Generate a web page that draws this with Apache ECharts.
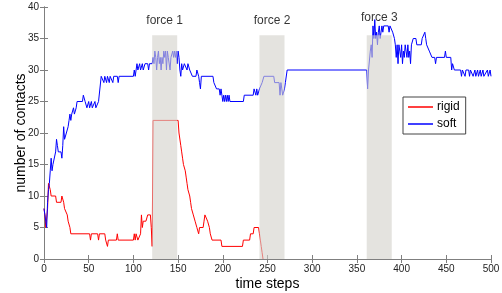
<!DOCTYPE html>
<html>
<head>
<meta charset="utf-8">
<script src="https://cdn.jsdelivr.net/npm/echarts@6/dist/echarts.min.js"></script>
<style>
html,body{margin:0;padding:0;background:#fff;}
#main{width:502px;height:293px;}
</style>
</head>
<body>
<div id="main"></div>
<script>
// rigid contacts per time step [step, contacts]
var rigid = [
  [0,8],[1,7],[2,5],[3,5],[4,8],[5,12],[6,12],[7,11],[8,10],[13,10],[14,9],[19,9],[20,10],[21,10],
  [22,9],[23,8],[25,8],[26,7],[27,6],[29,5],[30,4],[51,4],[52,3],[53,4],[60,4],[61,3],[62,4],
  [68,4],[69,3],[70,3],[71,2],[72,3],[81,3],[82,4],[83,3],[100,3],[101,4],[102,3],[103,4],[104,4],
  [105,3],[107,3],[108,4],[109,7],[110,5],[111,6],[114,6],[116,7],[119,7],[120,5],[121,2],[122,22],
  [150,22],[151,20],[152,20],[153,18],[154,17],[155,16],[156,15],[157,15],[158,14],[159,13],[160,12],
  [161,11],[162,11],[163,10],[164,9],[165,8],[166,8],[167,7],[168,7],[169,6],[171,5],[172,5],[173,4],
  [174,5],[178,5],[179,6],[180,7],[182,7],[183,6],[184,6],[185,5],[186,4],[187,4],[188,3],[198,3],
  [199,2],[222,2],[223,3],[230,3],[231,4],[234,4],[235,5],[240,5],[241,4],[242,3],[243,2],[244,1],[245,0]
];

// soft contacts per time step [step, contacts]
var soft = [
  [0,8],[1,7],[2,6],[3,5],[4,9],[5,11],[6,12],[7,14],[8,16],[9,14],[10,15],[12,15],[13,17],[14,19],
  [15,18],[16,17],[19,17],[20,16],[21,18],[22,21],[23,19],[24,19],[25,20],[26,20],[27,21],[28,22],
  [29,23],[30,22],[31,23],[32,23],[33,24],[34,23],[36,24],[37,25],[43,25],[44,26],[45,26],[46,25],
  [47,25],[48,24],[50,25],[51,24],[53,25],[54,24],[56,24],[57,25],[58,24],[60,24],[61,25],[63,25],
  [64,29],[66,29],[67,28],[68,29],[70,28],[71,29],[72,29],[73,28],[74,29],[77,28],[78,29],[82,29],
  [83,28],[84,29],[100,29],[101,30],[102,29],[103,30],[104,31],[105,30],[106,30],[107,31],[108,30],
  [109,30],[110,31],[111,30],[113,31],[116,31],[117,30],[118,31],[121,31],[122,32],[123,31],[124,33],
  [125,32],[126,30],[127,32],[128,33],[129,31],[130,32],[131,30],[132,32],[133,31],[134,33],[135,32],
  [136,33],[137,30],[138,33],[139,32],[140,32],[141,30],[142,32],[143,32],[144,33],[145,32],[146,33],
  [147,32],[148,33],[149,31],[150,33],[151,32],[152,30],[153,29],[154,31],[155,30],[157,31],[160,30],
  [161,31],[163,30],[165,30],[166,29],[170,29],[171,30],[172,30],[173,29],[174,28],[175,27],[176,29],
  [189,29],[190,28],[192,28],[193,27],[196,27],[197,26],[198,27],[199,26],[200,25],[201,26],[202,25],
  [203,26],[204,25],[205,26],[206,25],[207,26],[208,25],[223,25],[224,26],[234,26],[235,27],[236,27],
  [237,26],[238,27],[239,26],[241,27],[243,27],[244,28],[246,29],[257,29],[258,28],[263,28],[264,26],
  [265,28],[266,27],[267,26],[268,26],[269,27],[270,28],[272,30],[361,30],[362,27],[363,30],[365,33],
  [366,34],[367,32],[368,37],[369,35],[370,38],[371,35],[372,36],[373,34],[374,36],[375,37],[376,35],
  [377,36],[378,37],[379,36],[380,37],[385,37],[386,36],[387,37],[389,37],[390,36],[391,36],[392,35],
  [393,34],[394,32],[395,34],[396,31],[397,34],[398,33],[399,32],[400,34],[401,31],[402,33],[403,32],
  [404,34],[405,33],[406,32],[407,34],[408,32],[409,33],[410,31],[411,34],[412,34],[413,35],[416,35],
  [417,34],[422,34],[423,35],[425,35],[426,36],[427,35],[428,34],[430,34],[431,33],[433,33],[434,32],
  [437,32],[438,31],[439,32],[448,32],[449,33],[450,32],[455,32],[456,30],[457,31],[458,31],[459,30],
  [466,30],[467,29],[468,30],[470,30],[471,29],[472,30],[475,30],[476,29],[477,30],
  [479,30],[480,29],[482,30],[483,29],[485,30],[486,29],[488,30],[489,29],[491,30],[492,29],
  [494,29],[496,30],[497,29],[499,30],[500,29]
];

// force windows
var forceNames = ['force 1', 'force 2', 'force 3'];
var forceStart = [121, 241, 361];
var forceEnd = [149, 269, 389];
var forceTop = 35.5;
var forceLabelY = [37.8, 37.8, 38.3];

var myChart = echarts.init(document.getElementById('main'));

var bandData = [];
var labelData = [];
for (var i = 0; i < forceNames.length; i++) {
  bandData.push([forceStart[i], forceEnd[i], forceTop]);
  labelData.push({ name: forceNames[i], value: [(forceStart[i] + forceEnd[i]) / 2, forceLabelY[i]] });
}

function renderBand(params, api) {
  var p0 = api.coord([api.value(0), 0]);
  var p1 = api.coord([api.value(1), api.value(2)]);
  return {
    type: 'rect',
    shape: { x: p0[0], y: p1[1], width: p1[0] - p0[0], height: p0[1] - p1[1] },
    style: { fill: 'rgba(212,210,203,0.62)' }
  };
}

var axisGray = '#7f7f7f';
var font = 'Liberation Sans, Arial, sans-serif';

var option = {
  backgroundColor: '#fff',
  animation: false,
  grid: { left: 44, right: 11, top: 7, bottom: 34, containLabel: false, outerBoundsMode: 'none' },
  legend: {
    data: ['rigid', 'soft'],
    orient: 'vertical',
    left: 403,
    top: 97,
    padding: [4, 6, 4, 5],
    itemGap: 5,
    itemWidth: 25,
    itemHeight: 1.5,
    icon: 'rect',
    borderColor: '#444',
    borderWidth: 1,
    backgroundColor: '#fff',
    textStyle: { color: '#000', fontSize: 12, fontFamily: font, padding: [0, 0, 0, -1] }
  },
  xAxis: [{
    type: 'value', min: 0, max: 500, interval: 50,
    name: 'time steps', nameLocation: 'middle', nameGap: 18, nameMoveOverlap: false,
    nameTextStyle: { color: '#000', fontSize: 14, fontFamily: font, verticalAlign: 'top' },
    axisLine: { lineStyle: { color: axisGray } },
    axisTick: { inside: true, length: 4, lineStyle: { color: axisGray } },
    axisLabel: { color: '#222', fontSize: 10, fontFamily: font, margin: 5 },
    splitLine: { show: false }
  }, {
    type: 'value', min: 0, max: 500, interval: 50, position: 'top',
    axisLine: { lineStyle: { color: axisGray } },
    axisTick: { inside: true, length: 4, lineStyle: { color: axisGray } },
    axisLabel: { show: false },
    splitLine: { show: false }
  }],
  yAxis: [{
    type: 'value', min: 0, max: 40, interval: 5,
    name: 'number of contacts', nameLocation: 'middle', nameGap: 16, nameMoveOverlap: false,
    nameTextStyle: { color: '#000', fontSize: 14, fontFamily: font },
    axisLine: { show: true, lineStyle: { color: axisGray } },
    axisTick: { show: true, inside: true, length: 4, lineStyle: { color: axisGray } },
    axisLabel: { color: '#222', fontSize: 10, fontFamily: font, margin: 5 },
    splitLine: { show: false }
  }, {
    type: 'value', min: 0, max: 40, interval: 5, position: 'right',
    axisLine: { show: true, lineStyle: { color: axisGray } },
    axisTick: { show: true, inside: true, length: 4, lineStyle: { color: axisGray } },
    axisLabel: { show: false },
    splitLine: { show: false }
  }],
  series: [{
    name: 'rigid', type: 'line', data: rigid, showSymbol: false, z: 2,
    lineStyle: { color: '#ff0000', width: 1 }, itemStyle: { color: '#ff0000' }
  }, {
    name: 'soft', type: 'line', data: soft, showSymbol: false, z: 2,
    lineStyle: { color: '#0000ff', width: 1 }, itemStyle: { color: '#0000ff' }
  }, {
    name: 'bands', type: 'custom', data: bandData, renderItem: renderBand, z: 10, silent: true,
    encode: { x: [0, 1], y: 2 }
  }, {
    name: 'labels', type: 'scatter', data: labelData, symbolSize: 0, z: 11, silent: true,
    label: { show: true, position: 'inside', formatter: '{b}', color: '#000', fontSize: 12, fontFamily: font }
  }]
};

myChart.setOption(option);
</script>
</body>
</html>
